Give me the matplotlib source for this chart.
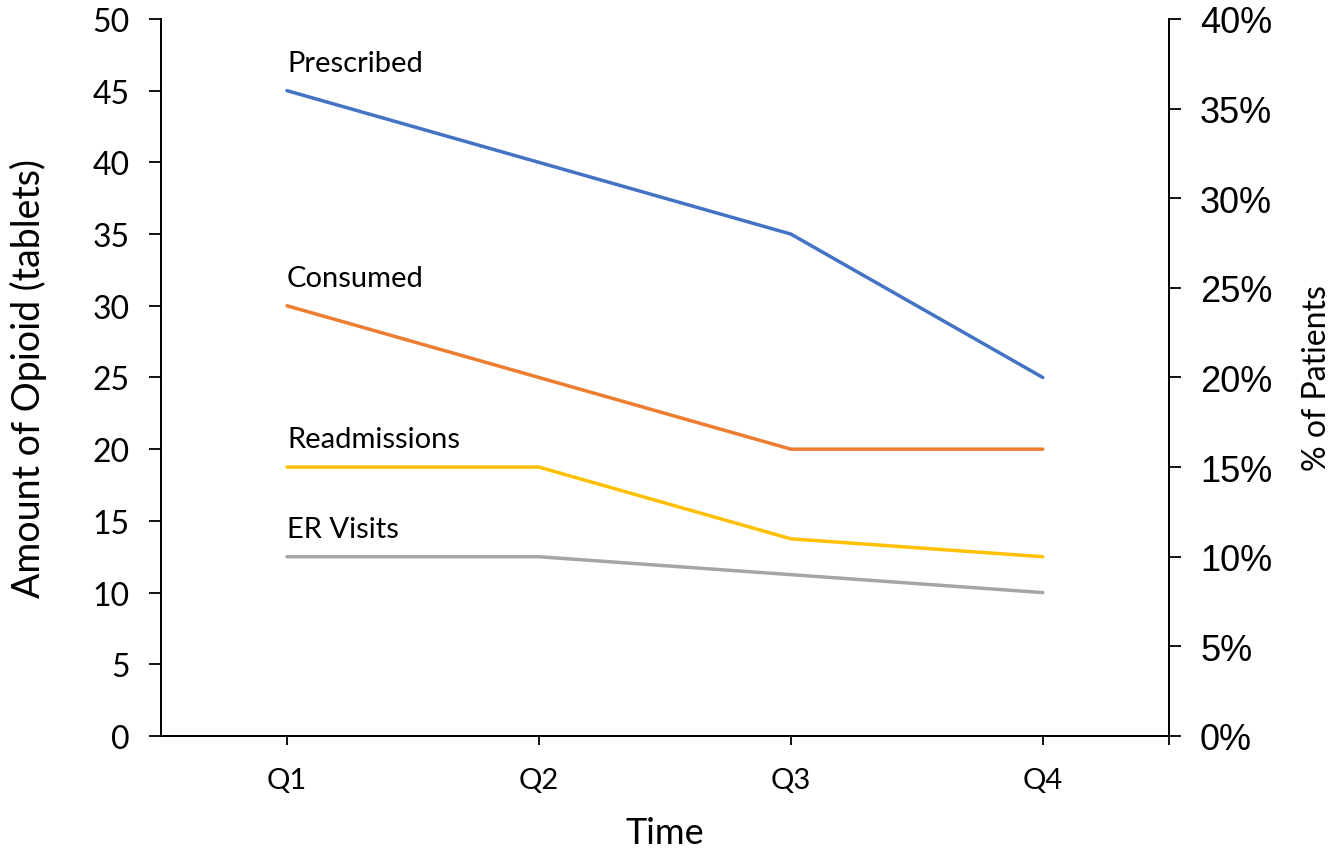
import matplotlib
matplotlib.use('Agg')
import matplotlib.pyplot as plt
from matplotlib.ticker import FuncFormatter, MultipleLocator

quarters = ['Q1', 'Q2', 'Q3', 'Q4']
prescribed = [45, 40, 35, 25]
consumed = [30, 25, 20, 20]
readmissions = [15, 15, 11, 10]   # % of patients
er_visits = [10, 10, 9, 8]        # % of patients

calibri = 'Lato'
arial = 'Liberation Sans'

def main():
    fig = plt.figure(figsize=(13.33, 8.53), dpi=100)
    ax = fig.add_axes([0.1208, 0.136, 0.756, 0.8406])
    ax2 = ax.twinx()

    x = range(len(quarters))
    ax.plot(x, prescribed, color='#4472C4', lw=2.5, solid_capstyle='round')
    ax.plot(x, consumed, color='#ED7D31', lw=2.5, solid_capstyle='round')
    ax2.plot(x, readmissions, color='#FFC000', lw=2.5, solid_capstyle='round')
    ax2.plot(x, er_visits, color='#A5A5A5', lw=2.5, solid_capstyle='round')

    ax.set_xlim(-0.5, 3.5)
    ax.set_ylim(0, 50)
    ax2.set_ylim(0, 40)
    ax.yaxis.set_major_locator(MultipleLocator(5))
    ax2.yaxis.set_major_locator(MultipleLocator(5))
    ax2.yaxis.set_major_formatter(FuncFormatter(lambda v, p: '%d%%' % v))

    ax.set_xticks(list(x))
    ax.set_xticklabels(quarters)
    ax.set_xticks([3.5], minor=True)
    ax.tick_params(axis='x', which='both', length=6.5, width=1.3, pad=16,
                   labelsize=21, labelfontfamily=calibri)
    ax.tick_params(axis='y', length=8.5, width=1.3, pad=14,
                   labelsize=23, labelfontfamily=calibri)
    ax2.tick_params(axis='y', length=8.5, width=1.3, pad=14,
                    labelsize=26, labelfontfamily=arial)

    for a in (ax, ax2):
        a.spines['top'].set_visible(False)
        for s in ('left', 'right', 'bottom'):
            a.spines[s].set_linewidth(1.3)

    ax.set_xlabel('Time', fontfamily=calibri, fontsize=26)
    ax.set_ylabel('Amount of Opioid (tablets)', fontfamily=calibri, fontsize=27)
    ax2.set_ylabel('% of Patients', fontfamily=calibri, fontsize=23)
    ax.xaxis.set_label_coords(0.5, -0.112)
    ax.yaxis.set_label_coords(-0.113, 0.5)
    ax2.yaxis.set_label_coords(1.132, 0.5)

    labels = [(ax, prescribed, 'Prescribed'), (ax, consumed, 'Consumed'),
              (ax2, readmissions, 'Readmissions'), (ax2, er_visits, 'ER Visits')]
    for a, vals, name in labels:
        a.annotate(name, (0, vals[0]), xytext=(0, 20), textcoords='offset points',
                   ha='left', va='center', fontfamily=calibri, fontsize=21)

    fig.savefig('out.png', dpi=100)

if __name__ == '__main__':
    main()
